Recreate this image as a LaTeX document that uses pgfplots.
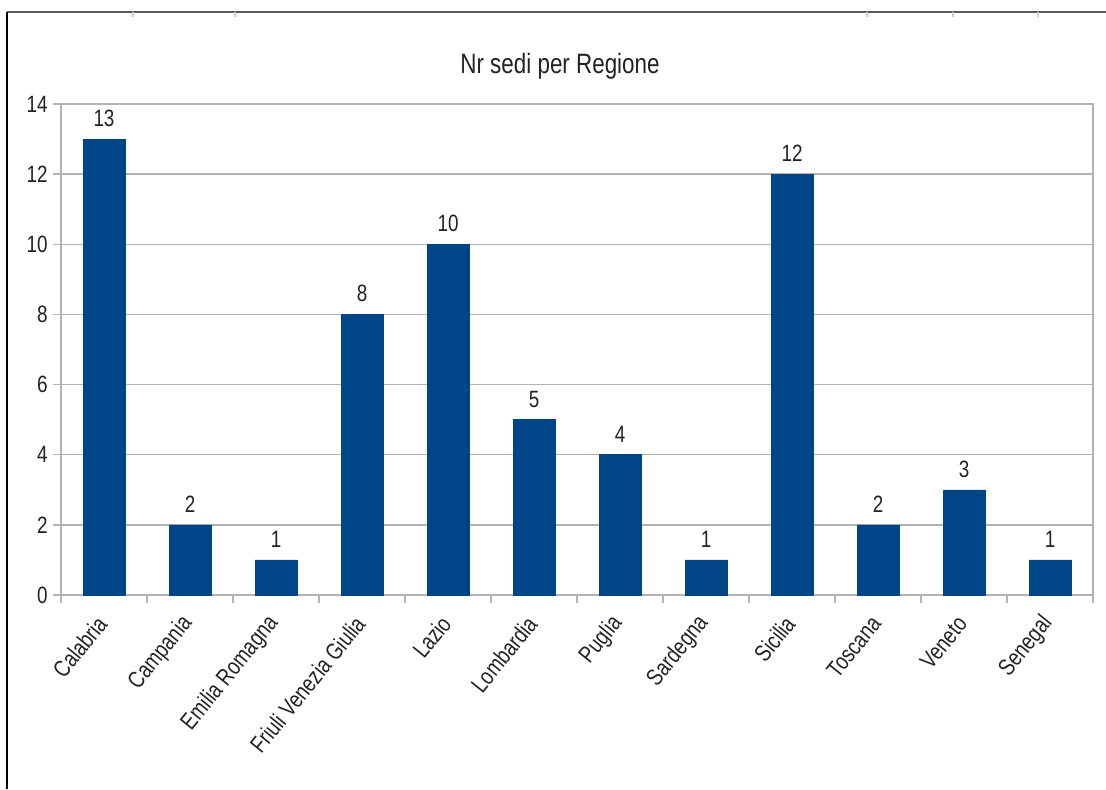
\documentclass[border=0pt]{standalone}
\usepackage{pgfplots}
\pgfplotsset{compat=1.18}
\usepackage{fontspec}
\setmainfont{Liberation Sans}[FakeStretch=0.8]
\definecolor{barblue}{HTML}{004586}
\definecolor{gridgray}{HTML}{B3B3B3}
\definecolor{txt}{HTML}{222222}
\newcommand\fs{\fontsize{11.8}{14}\selectfont}
\begin{document}
\begin{tikzpicture}
\path[use as bounding box] (0,0) rectangle (553pt,-394.5pt);
\draw[color=black!65, line width=1pt] (3.5pt,-6pt) -- (553pt,-6pt);
\draw[black, line width=1pt] (3.5pt,-6pt) -- (3.5pt,-394.5pt);
\foreach \x in {133,235,867,953,1038} \draw[gray!40, line width=0.6pt] ({\x*0.5pt},-6pt) -- ({\x*0.5pt},-8.5pt);
\node[anchor=base, font=\fontsize{14}{16}\selectfont, text=txt] at (280pt,-36.5pt) {Nr sedi per Regione};
\begin{axis}[
  at={(30.5pt,-297.5pt)}, anchor=south west,
  scale only axis, width=516pt, height=245.5pt,
  xmin=-0.5, xmax=11.5, ymin=0, ymax=14,
  ytick={0,2,...,14},
  xtick={0,...,11},
  xticklabels={Calabria,Campania,Emilia Romagna,Friuli Venezia Giulia,Lazio,Lombardia,Puglia,Sardegna,Sicilia,Toscana,Veneto,Senegal},
  minor xtick={-0.5,0.5,...,11.5},
  ymajorgrids,
  grid style={color=gridgray, line width=0.75pt},
  axis line style={gridgray, line width=0.75pt},
  major tick length=4pt, minor tick length=4pt,
  tick align=outside, tick pos=left,
  major x tick style={draw=none},
  minor x tick style={gridgray, line width=0.75pt},
  major y tick style={gridgray, line width=0.75pt},
  tick label style={font=\fs, text=txt},
  /pgf/number format/assume math mode=true,
  yticklabel style={inner sep=0pt, xshift=-2.5pt},
  xticklabel style={rotate=51, anchor=east, inner sep=0pt, xshift=-6.9pt, yshift=-4.4pt},
  ybar, bar width=21pt,
  nodes near coords,
  every node near coord/.append style={font=\fs, text=txt, inner sep=0pt, yshift=6pt},
]
\addplot[fill=barblue, draw=barblue, line width=0.3pt] coordinates {
(0,13) (1,2) (2,1) (3,8) (4,10) (5,5) (6,4) (7,1) (8,12) (9,2) (10,3) (11,1)
};
\end{axis}
\end{tikzpicture}
\end{document}
